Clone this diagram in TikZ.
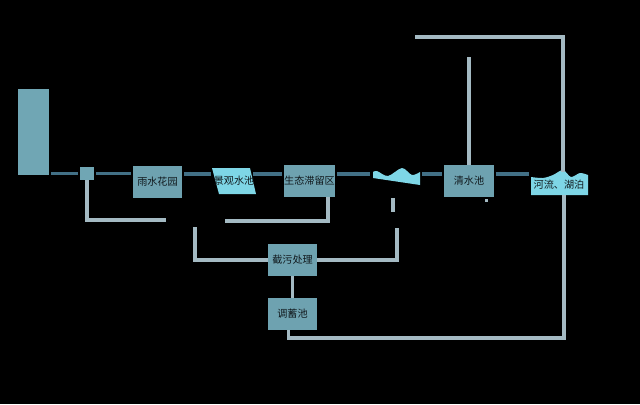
\documentclass[tikz,border=0pt]{standalone}
\usepackage{fontspec}
\newfontfamily\cjk{Noto Sans CJK SC}
\usetikzlibrary{calc}
\definecolor{boxc}{RGB}{110,162,176}
\definecolor{tankc}{RGB}{112,166,180}
\definecolor{waterc}{RGB}{126,214,230}
\definecolor{flowc}{RGB}{66,112,134}
\definecolor{pipec}{RGB}{164,186,195}
\definecolor{txtc}{RGB}{16,24,28}
\tikzset{
  label/.style={text=txtc, inner sep=0pt, font=\cjk\fontsize{7.2}{8}\selectfont},
  unit/.style={label, fill=boxc, minimum width=1.23cm, minimum height=0.8cm},
  flow/.style={draw=flowc, line width=2.6pt, shorten >=1.5pt, shorten <=1.5pt},
  pipe/.style={draw=pipec, line width=2.4pt},
}

\begin{document}
\begin{tikzpicture}[x=0.025cm, y=-0.025cm]
    \fill[black] (0,0) rectangle (640,404);
    \useasboundingbox (0,0) rectangle (640,404);

    \node[fill=tankc, inner sep=0pt, minimum width=0.78cm, minimum height=2.15cm] (tank) at (33.5,132) {};
    \node[fill=tankc, inner sep=0pt, minimum width=0.35cm, minimum height=0.33cm] (sq) at (87,173.5) {};
    \node[unit] (garden) at (157.5,181.5) {雨水花园};
    \fill[waterc] (212,168) -- (250,168) -- (256,194) -- (219,194) -- cycle;
    \node[label] (pond) at (234,181) {景观水池};
    \node[unit] (bio) at (309.5,180.5) {生态滞留区};
    \fill[waterc] plot[smooth] coordinates {(373,172) (377,171) (388,176) (402,168) (412,175) (420,172)}
        -- (420,185) -- (373,178) -- cycle;
    \node[unit] (clear) at (469,181) {清水池};
    \fill[waterc] plot[smooth] coordinates {(531,177) (543,178) (553,175) (563,170) (571,177) (580,173) (588,175)}
        -- (588,195) -- (531,195) -- cycle;
    \node[label] (river) at (559,185) {河流、湖泊};
    \node[unit] (treat) at (292.5,260) {截污处理};
    \node[unit] (store) at (292.5,314) {调蓄池};
    \fill[pipec] (485,199) rectangle (488,202);

    \coordinate (pondw) at (213,174);
    \coordinate (ponde) at (251,174);
    \coordinate (wavew) at (372,174);
    \coordinate (wavee) at (420,174);
    \coordinate (riverw) at (531,174);
    \coordinate (rivert) at (563,172);
    \coordinate (riverb) at (564,195);
    \coordinate (endsq) at (166,220);
    \coordinate (endbio) at (225,221);
    \coordinate (endl) at (195,227);
    \coordinate (endr) at (397,228);
    \coordinate (stubt) at (393,198);
    \coordinate (stubb) at (393,212);
    \coordinate (endtop) at (470,57);
    \coordinate (endup) at (415,37);
    \coordinate (bend) at (564,338);

    \draw[flow] (tank.east |- sq.west) -- (sq.west);
    \draw[flow] (sq.east) -- (sq.east -| garden.west);
    \draw[flow] (garden.east |- pondw) -- (pondw);
    \draw[flow] (ponde) -- (ponde -| bio.west);
    \draw[flow] (bio.east |- wavew) -- (wavew);
    \draw[flow] (wavee) -- (wavee -| clear.west);
    \draw[flow] (clear.east |- riverw) -- (riverw);

    \draw[pipe] (sq.south) |- (endsq);
    \draw[pipe] ($(bio.south east)+(-7,0)$) |- (endbio);
    \draw[pipe] (endl) |- (treat.west);
    \draw[pipe] (treat.east) -| (endr);
    \draw[pipe] (stubt) -- (stubb);
    \draw[pipe] (treat.south) -- (store.north);
    \draw[pipe] ($(store.south)+(-4,0)$) |- (bend) -- (riverb);
    \draw[pipe] ($(clear.south)+(3,0)$) -- ($(clear.south)+(3,0)$ |- bend);
    \draw[pipe] (clear.north) -- (clear.north |- endtop);
    \draw[pipe] (rivert) |- (endup);
\end{tikzpicture}
\end{document}
